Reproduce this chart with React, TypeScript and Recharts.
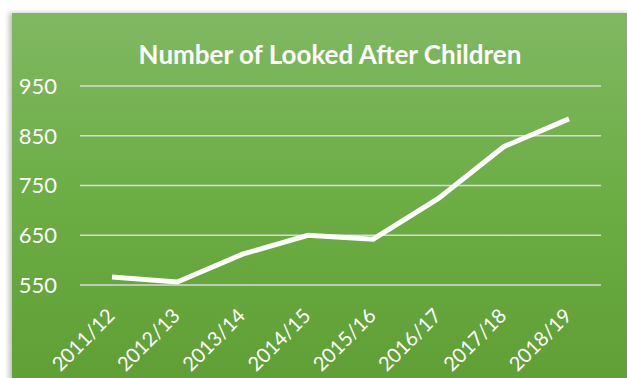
import { LineChart, Line, XAxis, YAxis, CartesianGrid } from 'recharts';

const years = ['2011/12', '2012/13', '2013/14', '2014/15', '2015/16', '2016/17', '2017/18', '2018/19'];
const children = [566, 556, 612, 650, 642, 724, 828, 884];
const yTicks = [550, 650, 750, 850, 950];

const data = years.map((year, i) => ({ year, children: children[i] }));

const font = 'Lato, "Open Sans", sans-serif';

// year labels slanted up to the right, ending just under their category
function YearTick({ x, y, payload }: any) {
  const tx = x + 4;
  const ty = y + 24;
  return (
    <text
      x={tx}
      y={ty}
      transform={`rotate(-45, ${tx}, ${ty})`}
      textAnchor="end"
      fill="#ffffff"
      fontSize={20}
      fontFamily={font}
    >
      {payload.value}
    </text>
  );
}

export default function App() {
  return (
    <div style={{ position: 'absolute', left: 0, top: 0, width: 627, height: 378, background: '#fff', overflow: 'hidden' }}>
      <div
        style={{
          position: 'absolute',
          left: 12,
          top: 13,
          width: 620,
          height: 370,
          background: 'linear-gradient(to bottom, #80b862 0%, #6cad44 50%, #5f9f35 100%)',
          boxShadow: '-3px 0 5px rgba(0,0,0,0.25)',
        }}
      >
        <div
          style={{
            position: 'absolute',
            left: 0,
            top: 25,
            width: 636,
            textAlign: 'center',
            color: '#fff',
            fontFamily: font,
            fontWeight: 700,
            fontSize: 26,
          }}
        >
          Number of Looked After Children
        </div>
        <LineChart
          width={615}
          height={365}
          data={data}
          margin={{ top: 73, right: 26, bottom: 13, left: 0 }}
        >
          <CartesianGrid vertical={false} stroke="#d9d9d9" strokeWidth={1.5} />
          <XAxis
            dataKey="year"
            axisLine={false}
            tickLine={false}
            interval={0}
            height={80}
            padding={{ left: 32, right: 32 }}
            tick={<YearTick />}
          />
          <YAxis
            width={68}
            domain={[550, 950]}
            ticks={yTicks}
            axisLine={false}
            tickLine={false}
            tickMargin={17}
            tick={{ fill: '#ffffff', fontSize: 22, fontFamily: font }}
          />
          <Line
            type="linear"
            dataKey="children"
            stroke="#ffffff"
            strokeWidth={5}
            dot={false}
            isAnimationActive={false}
          />
        </LineChart>
      </div>
    </div>
  );
}
